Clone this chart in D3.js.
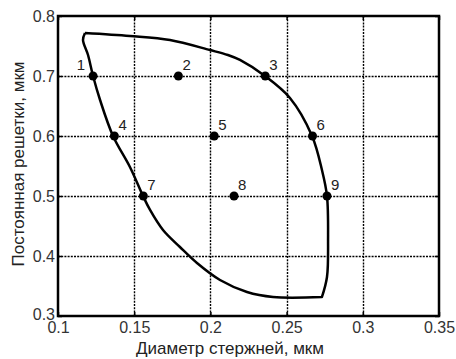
<!DOCTYPE html>
<html>
<head>
<meta charset="utf-8">
<script src="https://cdn.jsdelivr.net/npm/d3@7"></script>
<style>
  body { margin: 0; background: #fff; }
  svg { display: block; font-family: "Liberation Sans", Arial, sans-serif; }
</style>
</head>
<body>
<div id="chart"></div>
<script>
// points: diameter (um), lattice constant (um)
const pointIds = ['1', '2', '3', '4', '5', '6', '7', '8', '9'];
const pointDiam = [0.123, 0.179, 0.236, 0.137, 0.2025, 0.267, 0.156, 0.2155, 0.2765];
const pointLattice = [0.70, 0.70, 0.70, 0.60, 0.60, 0.60, 0.50, 0.50, 0.50];

// boundary of the region (closed contour), corners repeated to keep them sharp
const boundaryX = [0.1177, 0.1177, 0.1164, 0.1197, 0.123, 0.1276, 0.1361, 0.1472, 0.1558, 0.1604, 0.1689,
  0.18, 0.1912, 0.2063, 0.224, 0.2411, 0.2732, 0.2732, 0.2765, 0.2772, 0.2765, 0.2732, 0.2667, 0.2522,
  0.2358, 0.2194, 0.2115, 0.1997, 0.1735, 0.1472, 0.1177, 0.1177];
const boundaryY = [0.7717, 0.7717, 0.76, 0.735, 0.70, 0.66, 0.60, 0.5483, 0.50, 0.4767, 0.4433,
  0.415, 0.3883, 0.36, 0.34, 0.3317, 0.3317, 0.3317, 0.365, 0.4267, 0.50, 0.5433, 0.60, 0.6633,
  0.70, 0.7267, 0.735, 0.7433, 0.76, 0.7667, 0.7717, 0.7717];

const xTicks = [0.1, 0.15, 0.2, 0.25, 0.3, 0.35];
const yTicks = [0.3, 0.4, 0.5, 0.6, 0.7, 0.8];
const xTitle = 'Диаметр стержней, мкм';
const yTitle = 'Постоянная решетки, мкм';

const width = 456;
const height = 359;
const margin = { top: 16, right: 17, bottom: 43, left: 58 };

const x = d3.scaleLinear().domain([0.1, 0.35]).range([margin.left, width - margin.right]);
const y = d3.scaleLinear().domain([0.3, 0.8]).range([height - margin.bottom, margin.top]);

const svg = d3.select('#chart').append('svg')
  .attr('width', width)
  .attr('height', height);

const fmt = d => String(+d.toFixed(2));

// dotted grid
const grid = svg.append('g').attr('class', 'grid');
grid.selectAll('line.gx')
  .data(xTicks.slice(1, -1))
  .join('line')
  .attr('class', 'gx')
  .attr('x1', d => Math.round(x(d)) + 0.5)
  .attr('x2', d => Math.round(x(d)) + 0.5)
  .attr('y1', y(0.8))
  .attr('y2', y(0.3));
grid.selectAll('line.gy')
  .data(yTicks.slice(1, -1))
  .join('line')
  .attr('class', 'gy')
  .attr('x1', x(0.1))
  .attr('x2', x(0.35))
  .attr('y1', d => Math.round(y(d)) + 0.5)
  .attr('y2', d => Math.round(y(d)) + 0.5);
grid.selectAll('line')
  .style('stroke', '#000')
  .style('stroke-width', '1.4px')
  .style('stroke-dasharray', '2 1.2');

// axes with inward ticks
function styleAxis(g) {
  g.select('.domain').remove();
  g.selectAll('.tick line').attr('stroke', '#000').attr('stroke-width', 1.5);
  g.selectAll('.tick text').attr('fill', '#333').style('font-size', '16px');
}
svg.append('g')
  .attr('transform', `translate(0, ${y(0.3)})`)
  .call(d3.axisBottom(x).tickValues(xTicks).tickFormat(fmt).tickSizeInner(-4).tickSizeOuter(0).tickPadding(6))
  .call(styleAxis);
svg.append('g')
  .attr('transform', `translate(0, ${y(0.8)})`)
  .call(d3.axisTop(x).tickValues(xTicks).tickFormat('').tickSizeInner(-4).tickSizeOuter(0))
  .call(styleAxis);
svg.append('g')
  .attr('transform', `translate(${x(0.1)}, 0)`)
  .call(d3.axisLeft(y).tickValues(yTicks).tickFormat(fmt).tickSizeInner(-4).tickSizeOuter(0).tickPadding(3))
  .call(styleAxis)
  .call(g => g.selectAll('.tick text').filter(d => d === 0.3).attr('y', -2));
svg.append('g')
  .attr('transform', `translate(${x(0.35)}, 0)`)
  .call(d3.axisRight(y).tickValues(yTicks).tickFormat('').tickSizeInner(-4).tickSizeOuter(0))
  .call(styleAxis);

// frame
svg.append('rect')
  .attr('x', x(0.1)).attr('y', y(0.8))
  .attr('width', x(0.35) - x(0.1)).attr('height', y(0.3) - y(0.8))
  .attr('fill', 'none').attr('stroke', '#000').attr('stroke-width', 2.5);

// boundary contour
const contour = boundaryX.map((d, i) => [d, boundaryY[i]]);
svg.append('path')
  .datum(contour)
  .attr('d', d3.line().x(d => x(d[0])).y(d => y(d[1])).curve(d3.curveCatmullRom.alpha(0.5)))
  .attr('fill', 'none')
  .attr('stroke', '#000')
  .attr('stroke-width', 2.5)
  .attr('stroke-linejoin', 'round');

// points
const pts = pointIds.map((id, i) => ({ id, d: pointDiam[i], a: pointLattice[i] }));
svg.append('g').selectAll('circle')
  .data(pts)
  .join('circle')
  .attr('cx', d => x(d.d))
  .attr('cy', d => y(d.a))
  .attr('r', 4.5)
  .attr('fill', '#000');

svg.append('g').selectAll('text')
  .data(pts)
  .join('text')
  .attr('x', d => x(d.d) + (d.id === '1' ? -8 : 4))
  .attr('y', d => y(d.a) - 6)
  .attr('text-anchor', d => d.id === '1' ? 'end' : 'start')
  .attr('fill', '#222')
  .style('font-size', '15px')
  .text(d => d.id);

// axis titles
svg.append('text')
  .attr('x', 230)
  .attr('y', height - 5)
  .attr('text-anchor', 'middle')
  .attr('fill', '#222')
  .style('font-size', '17px')
  .text(xTitle);
svg.append('text')
  .attr('transform', `translate(24, ${(y(0.3) + y(0.8)) / 2 - 2}) rotate(-90)`)
  .attr('text-anchor', 'middle')
  .attr('fill', '#222')
  .style('font-size', '17px')
  .text(yTitle);
</script>
</body>
</html>
